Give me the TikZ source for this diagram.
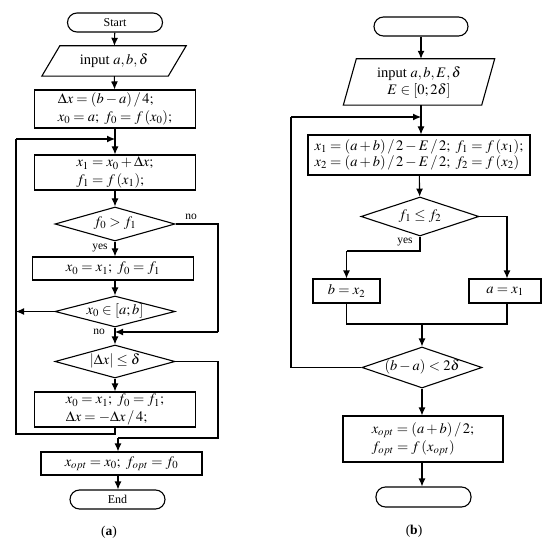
\documentclass[tikz,border=0pt]{standalone}
\usepackage{mathptmx}
\usepackage[no-math]{fontspec}
\setmainfont{Liberation Serif}
\usetikzlibrary{arrows.meta,shapes.geometric}
\tikzset{
  ln/.style={line width=1.1pt, line join=miter},
  arr/.style={ln, -{Latex[length=8pt,width=7pt]}},
  box/.style={draw, ln, rectangle, inner sep=0pt, align=left, font=\fontsize{14.5}{17.5}\selectfont},
  term/.style={draw, ln, rectangle, rounded corners=9.5pt, inner sep=0pt, font=\fontsize{12}{14}\selectfont},
  io/.style={rectangle, inner sep=0pt, align=center, font=\fontsize{14.5}{17}\selectfont},
  dia/.style={draw, ln, diamond, inner sep=0pt, aspect=3.2, text height=6pt, text depth=1pt, font=\fontsize{14.5}{16.5}\selectfont},
  lbl/.style={inner sep=0pt, font=\fontsize{11.5}{13}\selectfont},
  captxt/.style={inner sep=0pt, font=\fontsize{13.5}{15}\selectfont}
}
\begin{document}
\begin{tikzpicture}[x=1pt,y=-1pt]
\useasboundingbox (0,0) rectangle (550,543);
% ---------------- (a) ----------------
\node[term, minimum width=95pt, minimum height=19pt] (startA) at (115,22.5) {Start};
\node[io, minimum width=126pt, minimum height=30pt] (inA) at (114,61) {input $a, b, \delta$};
\draw[ln] ([xshift=9pt]inA.north west) -- ([xshift=9pt]inA.north east) -- ([xshift=-9pt]inA.south east) -- ([xshift=-9pt]inA.south west) -- cycle;
\node[box, minimum width=161pt, minimum height=38pt] (a1) at (115,109) {$\Delta x = (b-a)\,/\,4;$\\ $x_0 = a;\ f_0 = f\,(x_0);$};
\node[box, minimum width=161pt, minimum height=35pt] (a2) at (115,172.5) {$x_1 = x_0 + \Delta x;$\\ $f_1 = f\,(x_1);$};
\node[dia, minimum width=120pt, minimum height=34pt] (d1) at (115,224) {$f_0 > f_1$};
\node[box, minimum width=161pt, minimum height=23pt] (a3) at (113,268.5) {$x_0 = x_1;\ f_0 = f_1$};
\node[dia, minimum width=120pt, minimum height=31pt] (d2) at (115,311.5) {$x_0 \in [a; b]$};
\node[dia, minimum width=120pt, minimum height=33pt] (d3) at (115,361.5) {$\vert\Delta x\vert \le \delta$};
\node[box, minimum width=161pt, minimum height=35pt] (a4) at (115,409.5) {$x_0 = x_1;\ f_0 = f_1;$\\ $\Delta x = -\Delta x\,/\,4;$};
\node[box, minimum width=161pt, minimum height=23pt] (a5) at (121.5,463.5) {$x_{opt} = x_0;\ f_{opt} = f_0$};
\node[term, minimum width=95pt, minimum height=19pt] (endA) at (117.5,499.5) {End};
\node[lbl] (noA1) at (191,217) {no};
\node[lbl] (yesA) at (100,248) {yes};
\node[lbl] (noA2) at (99,332) {no};
\node[captxt] (capA) at (109,532) {(\textbf{a})};
\coordinate (LA1) at (16,139);
\coordinate (LA2) at (16,434);
\coordinate (LA3) at (115,434);
\coordinate (LA4) at (16,311.5);
\coordinate (RA1) at (218,224);
\coordinate (RA2) at (218,332);
\coordinate (MA1) at (115,332);
\coordinate (RA3) at (218,361.5);
\coordinate (RA4) at (218,438);
\coordinate (MA2) at (118,438);
\draw[arr] (startA) -- (inA);
\draw[arr] (inA) -- (a1);
\draw[arr] (a1) -- (a2);
\draw[ln] (a4.south) -- (LA3) -- (LA2) -- (LA1);
\draw[arr] (LA1) -- (LA1 -| a1);
\draw[arr] (a2) -- (d1);
\draw[ln] (d1.east) -- (RA1) -- (RA2);
\draw[arr] (RA2) -- (MA1);
\draw[arr] (d1) -- (d1 |- a3.north);
\draw[arr] (d1 |- a3.south) -- (d2);
\draw[arr] (d2.west) -- (LA4);
\draw[arr] (d2) -- (d3);
\draw[arr] (d3) -- (a4);
\draw[ln] (d3.east) -- (RA3) -- (RA4) -- (MA2);
\draw[arr] (MA2) -- (MA2 |- a5.north);
\draw[arr] (MA2 |- a5.south) -- (MA2 |- endA.north);
% ---------------- (b) ----------------
\node[term, minimum width=94pt, minimum height=19pt] (startB) at (421,26.5) {};
\node[io, minimum width=138pt, minimum height=46pt] (inB) at (419,82) {input $a, b, E, \delta$\\ $E \in [0; 2\delta]$};
\draw[ln] ([xshift=6.5pt]inB.north west) -- ([xshift=6.5pt]inB.north east) -- ([xshift=-6.5pt]inB.south east) -- ([xshift=-6.5pt]inB.south west) -- cycle;
\node[box, minimum width=222pt, minimum height=40pt, font=\fontsize{14.5}{16}\selectfont] (b1) at (419,155) {$x_1 = (a+b)\,/\,2 - E\,/\,2;\ f_1 = f\,(x_1);$\\ $x_2 = (a+b)\,/\,2 - E\,/\,2;\ f_2 = f\,(x_2)$};
\node[dia, minimum width=118pt, minimum height=39pt, aspect=3] (e1) at (420,216.5) {$f_1 \le f_2$};
\node[box, minimum width=67pt, minimum height=24pt] (bx) at (346.5,291) {$b = x_2$};
\node[box, minimum width=72pt, minimum height=24pt] (ax) at (505,291) {$a = x_1$};
\node[dia, minimum width=120pt, minimum height=41pt, aspect=2.9] (e2) at (422,367.5) {$(b-a) < 2\delta$};
\node[box, minimum width=160pt, minimum height=46pt] (b2) at (423,439) {$x_{opt} = (a+b)\,/\,2;$\\ $f_{opt} = f\,(x_{opt})$};
\node[term, minimum width=95pt, minimum height=20pt] (endB) at (423.5,497) {};
\node[lbl] (yesB) at (405,242) {yes};
\node[captxt] (capB) at (414,531) {(\textbf{b})};
\coordinate (YB1) at (420,251);
\coordinate (YB2) at (346.5,251);
\coordinate (NB1) at (507,216.5);
\coordinate (JB1) at (346.5,324);
\coordinate (JB2) at (507,324);
\coordinate (JB3) at (422,324);
\coordinate (LB1) at (291,367.5);
\coordinate (LB2) at (291,117);
\coordinate (LB3) at (421,117);
\draw[arr] (startB) -- (startB |- inB.north);
\draw[arr] (startB |- inB.south) -- (LB3 |- b1.north);
\draw[arr] (b1) -- (e1);
\draw[ln] (e1.south) -- (YB1) -- (YB2);
\draw[arr] (YB2) -- (bx);
\draw[ln] (e1.east) -- (NB1);
\draw[arr] (NB1) -- (NB1 |- ax.north);
\draw[ln] (bx) -- (JB1) -- (JB2) -- (JB2 |- ax.south);
\draw[arr] (JB3) -- (e2);
\draw[ln] (e2.west) -- (LB1) -- (LB2);
\draw[arr] (LB2) -- (LB3);
\draw[arr] (e2.south) -- (e2.south |- b2.north);
\draw[arr] (e2.south |- b2.south) -- (e2.south |- endB.north);
\end{tikzpicture}
\end{document}
